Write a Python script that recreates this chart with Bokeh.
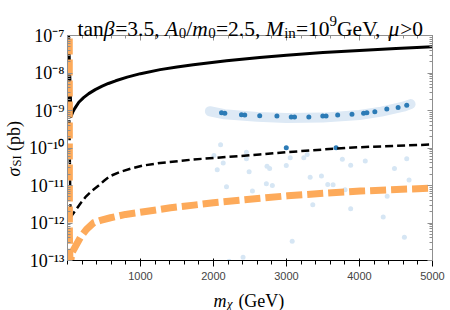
import math
from bokeh.plotting import figure
from bokeh.models import (LinearAxis, LogAxis, Label, FixedTicker, LogTicker,
                          CustomJSTickFormatter, GridBox)
from bokeh.embed import file_html
from bokeh.resources import INLINE

# ---------------- data ----------------
solid_m = [10, 48, 70, 100, 155, 220, 291, 380, 475, 560, 660, 818, 1000, 1269, 1500,
           1723, 2178, 2633, 3000, 3500, 4000, 4500, 5000]
solid_sigma = [2e-7, 6.9e-10, 8.9e-10, 1.14e-9, 1.66e-9, 2.2e-9, 2.82e-9, 3.6e-9, 4.45e-9,
               5.25e-9, 6.2e-9, 7.76e-9, 9.6e-9, 1.23e-8, 1.45e-8, 1.66e-8, 2.12e-8,
               2.6e-8, 2.98e-8, 3.5e-8, 4.0e-8, 4.5e-8, 5.0e-8]

dashed_m = [10, 41, 109, 177, 245, 340, 427, 505, 587, 726, 862, 1037, 1270, 1719, 2178,
            2633, 2997, 3500, 4000, 5000]
dashed_sigma = [2e-7, 1.43e-12, 2.15e-12, 3.31e-12, 4.88e-12, 7.36e-12, 1.0e-11, 1.36e-11,
                1.79e-11, 2.32e-11, 2.79e-11, 3.41e-11, 3.98e-11, 4.93e-11, 5.75e-11,
                6.71e-11, 7.73e-11, 9.12e-11, 1.05e-10, 1.24e-10]

floor_m = [24, 26, 32, 45, 64, 178, 260, 360, 452, 589, 795, 1045, 1411, 1730, 2000, 2644,
           3013, 3507, 4013, 4507, 5000]
floor_sigma = [3e-7, 5e-13, 1.26e-13, 1.0e-13, 1.66e-13, 4.17e-13, 6.76e-13, 1.02e-12,
               1.17e-12, 1.38e-12, 1.69e-12, 1.99e-12, 2.54e-12, 3.0e-12, 3.46e-12,
               4.56e-12, 5.31e-12, 6.19e-12, 7.1e-12, 7.82e-12, 8.48e-12]

band_m = [1950, 2150, 2600, 3000, 3500, 4000, 4300, 4600, 4700]
band_sigma = [9.55e-10, 7.94e-10, 6.76e-10, 6.31e-10, 6.46e-10, 7.59e-10, 9.33e-10,
              1.26e-9, 1.48e-9]

dark_m = [2110, 2155, 2383, 2428, 2633, 2869, 3065, 3110, 3306, 3497, 3542, 3701, 3897,
          4056, 4101, 4210, 4374, 4529, 4647, 2997, 3679]
dark_sigma = [8.71e-10, 8.51e-10, 7.76e-10, 7.59e-10, 7.24e-10, 7.08e-10, 6.76e-10,
              6.76e-10, 6.76e-10, 7.08e-10, 7.08e-10, 7.59e-10, 7.94e-10, 8.51e-10,
              8.71e-10, 9.33e-10, 1.10e-9, 1.20e-9, 1.38e-9, 1.02e-10, 1.02e-10]

pale_m = [2097, 2006, 2051, 2133, 2178, 2451, 2451, 2488, 2533, 2405, 2214, 2733, 2769,
          2724, 2806, 2997, 3051, 3078, 3237, 3283, 3324, 3360, 3479, 3565, 3638, 3765,
          3802, 3879, 3879, 4079, 4325, 4379, 4479, 4615, 4647, 4679]
pale_sigma = [1.23e-10, 6.3e-11, 2.63e-11, 3.98e-11, 9.3e-12, 7.76e-11, 5.13e-11, 2.34e-11,
              7.08e-12, 1.23e-13, 9.5e-14, 3.24e-11, 2.82e-11, 1.12e-11, 1.0e-11, 3.39e-11,
              5.5e-11, 3.24e-13, 5.5e-11, 6.76e-11, 1.66e-11, 3.09e-12, 1.78e-11, 1.07e-11,
              1.05e-11, 5.0e-11, 7.76e-12, 3.47e-11, 2.4e-12, 4.47e-11, 1.45e-12, 5.13e-12,
              2.82e-11, 4.17e-13, 5.13e-11, 1.41e-11]

x_ticks = [1000, 2000, 3000, 4000, 5000]
x_minor = list(range(0, 5001, 200))
y_tick_labels = ["10⁻¹³", "10⁻¹²", "10⁻¹¹", "10⁻¹⁰", "10⁻⁹", "10⁻⁸", "10⁻⁷"]

title_parts = [("tan", "n", "r"), ("β", "n", "i"), ("=3.5, ", "n", "r"), ("A", "n", "i"),
               ("0", "sub", "r"), ("/", "n", "r"), ("m", "n", "i"), ("0", "sub", "r"),
               ("=2.5, ", "n", "r"), ("M", "n", "i"), ("in", "sub", "r"), ("=10", "n", "r"),
               ("9", "sup", "r"), ("GeV, ", "n", "r"), ("μ", "n", "i"), (">0", "n", "r")]
xlabel_parts = [("m", "n", "i"), ("χ", "sub", "i"), (" (GeV)", "n", "r")]
ylabel_parts = [("σ", "n", "i"), ("SI", "sub", "r"), (" (pb)", "n", "r")]

# ---------------- layout / style ----------------
FONT = "Liberation Serif"
W, H = 450, 310
FL, FT, FW, FH = 67, 35, 365, 225
AX = "#8f8f8f"
ORANGE = "#fdaa5a"
DARK = "#2c7bb6"
PALE = "#d6e6f4"
BAND = "#dde9f5"

p = figure(width=W, height=H, x_range=(0, 5000), y_range=(1e-13, 1e-7),
           y_axis_type="log", output_backend="svg", toolbar_location=None,
           min_border_left=FL, min_border_right=W - FL - FW, min_border_top=FT,
           min_border_bottom=H - FT - FH)
p.xgrid.visible = False
p.ygrid.visible = False
p.outline_line_color = AX
p.background_fill_color = "white"
p.border_fill_color = "white"

xt = FixedTicker(ticks=x_ticks, minor_ticks=x_minor)
yt = LogTicker(num_minor_ticks=10)
p.xaxis[0].ticker = xt
p.yaxis[0].ticker = yt
p.yaxis[0].formatter = CustomJSTickFormatter(
    args=dict(labels=y_tick_labels),
    code="const e = Math.round(Math.log10(tick)); const i = e + 13;"
         " return (i >= 0 && i < labels.length) ? labels[i] : '';")
top = LinearAxis(ticker=xt, formatter=CustomJSTickFormatter(code="return ''"))
right = LogAxis(ticker=yt, formatter=CustomJSTickFormatter(code="return ''"))
p.add_layout(top, "above")
p.add_layout(right, "right")


def style(ax, labels=True):
    ax.axis_line_color = AX
    ax.major_tick_line_color = AX
    ax.minor_tick_line_color = AX
    ax.major_tick_in = 5
    ax.major_tick_out = 0
    ax.minor_tick_in = 3
    ax.minor_tick_out = 0
    ax.major_label_text_font = FONT
    ax.major_label_text_color = "black"
    ax.major_label_text_font_size = "18px" if labels else "1px"
    ax.major_label_standoff = 3 if labels else 0


style(p.xaxis[0])
style(p.yaxis[0])
p.xaxis[0].major_label_standoff = 5
style(top, False)
style(right, False)

p.scatter(pale_m, pale_sigma, size=5, fill_color=PALE, line_color=None)
p.line(band_m, band_sigma, line_width=10, line_color=BAND, line_cap="round", line_join="round")
p.scatter(dark_m, dark_sigma, size=5, fill_color=DARK, line_color=None)
p.line(solid_m, solid_sigma, line_width=3, line_color="black", line_join="round")
p.line(dashed_m, dashed_sigma, line_width=2.5, line_color="black", line_dash="8 4",
       line_join="round")
p.line(floor_m, floor_sigma, line_width=7, line_color=ORANGE, line_dash="16 5",
       line_join="round")

# ---------------- transparent overlay carrying the rich texts ----------------
ov = figure(width=W, height=H, x_range=(0, W), y_range=(0, H), output_backend="svg",
            toolbar_location=None, x_axis_location=None, y_axis_location=None,
            min_border=0, title=None)
ov.center = []
ov.outline_line_color = None
ov.background_fill_color = None
ov.border_fill_color = None
for fig in (p, ov):
    if hasattr(fig, "frame_align"):
        fig.frame_align = False

REG = {' ': 0.25, '(': 0.333, ')': 0.333, ',': 0.25, '.': 0.25, '/': 0.278, '=': 0.564,
       '>': 0.564, 'G': 0.722, 'V': 0.722, 'e': 0.444, 'a': 0.444, 'n': 0.5, 't': 0.278,
       'i': 0.278, 'p': 0.5, 'b': 0.5, 'S': 0.556, 'I': 0.333}
ITA = {'A': 0.611, 'm': 0.722, 'M': 0.833, 'β': 0.5, 'μ': 0.52, 'σ': 0.52, 'χ': 0.5}


def tw(s, it):
    t = 0.0
    for c in s:
        if c.isdigit():
            t += 0.5
        elif it:
            t += ITA.get(c, 0.5)
        else:
            t += REG.get(c, 0.5)
    return t


def compose(parts, sx0, sy0, size, vertical=False):
    pos = 0.0
    for text, kind, st in parts:
        fs = size * 0.7 if kind != "n" else size
        shift = 0.2 * size if kind == "sub" else (-0.36 * size if kind == "sup" else 0.0)
        it = st == "i"
        lead = len(text) - len(text.lstrip(" "))
        start = pos + lead * 0.25 * fs
        if vertical:
            sx, sy = sx0 + shift, sy0 - start
        else:
            sx, sy = sx0 + start, sy0 + shift
        ov.add_layout(Label(x=sx, y=H - sy, text=text.strip(" "), text_font=FONT,
                            text_font_size="%.1fpx" % fs,
                            text_font_style="italic" if it else "normal",
                            text_color="black", text_align="left",
                            text_baseline="alphabetic",
                            angle=math.pi / 2 if vertical else 0.0))
        pos += tw(text, it) * fs + (0.03 * size if it else 0.0)


compose(title_parts, 77, 28, 21.5)
compose(xlabel_parts, 213, 300, 18)
compose(ylabel_parts, 13, 176, 18, vertical=True)

grid = GridBox(children=[(p, 0, 0), (ov, 0, 0)])
open("out.html", "w").write(file_html(grid, INLINE))
